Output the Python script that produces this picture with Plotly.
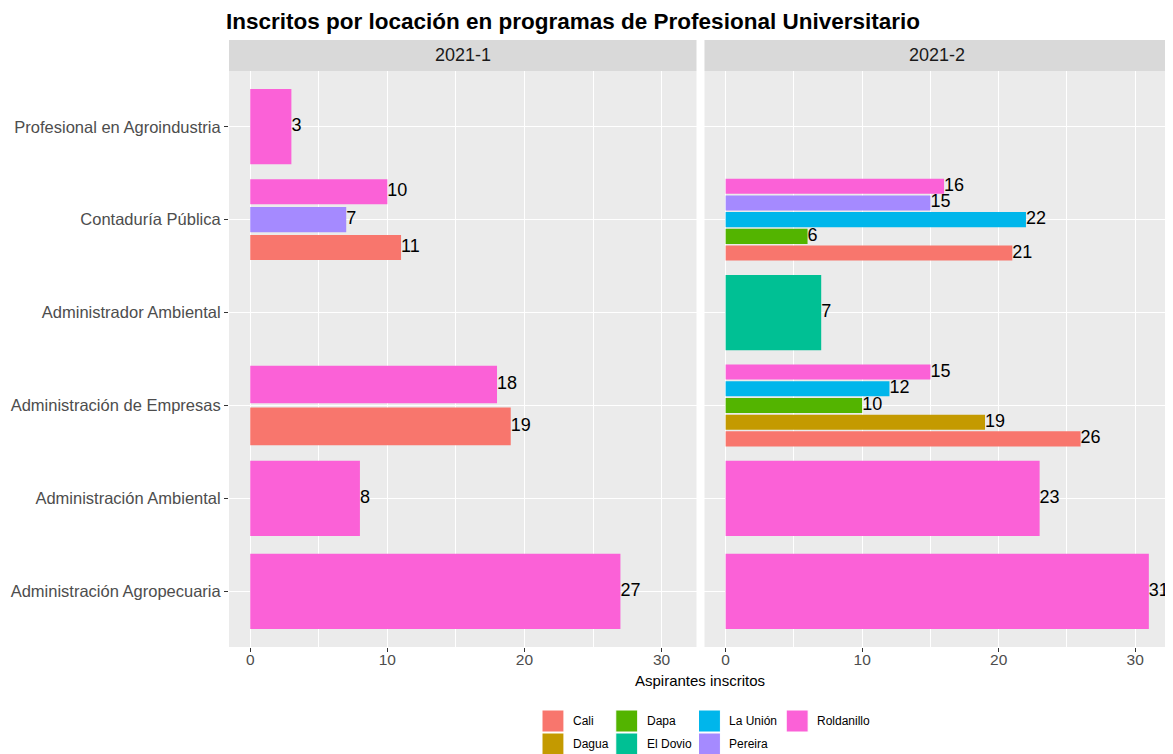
import plotly.graph_objects as go

# ---------------- data ----------------
categories = ["Administración Agropecuaria", "Administración Ambiental",
              "Administración de Empresas", "Administrador Ambiental",
              "Contaduría Pública", "Profesional en Agroindustria"]
locations = ["Cali", "Dagua", "Dapa", "El Dovio", "La Unión", "Pereira", "Roldanillo"]
loc_colors = ["#F8766D", "#C49A00", "#53B400", "#00C094", "#00B6EB", "#A58AFF", "#FB61D7"]
periods = ["2021-1", "2021-2"]

p1_program = ["Profesional en Agroindustria", "Contaduría Pública", "Contaduría Pública",
              "Contaduría Pública", "Administración de Empresas", "Administración de Empresas",
              "Administración Ambiental", "Administración Agropecuaria"]
p1_location = ["Roldanillo", "Cali", "Pereira", "Roldanillo", "Cali", "Roldanillo",
               "Roldanillo", "Roldanillo"]
p1_value = [3, 11, 7, 10, 19, 18, 8, 27]

p2_program = ["Contaduría Pública", "Contaduría Pública", "Contaduría Pública",
              "Contaduría Pública", "Contaduría Pública", "Administrador Ambiental",
              "Administración de Empresas", "Administración de Empresas",
              "Administración de Empresas", "Administración de Empresas",
              "Administración de Empresas", "Administración Ambiental",
              "Administración Agropecuaria"]
p2_location = ["Cali", "Dapa", "La Unión", "Pereira", "Roldanillo", "El Dovio",
               "Cali", "Dagua", "Dapa", "La Unión", "Roldanillo", "Roldanillo", "Roldanillo"]
p2_value = [21, 6, 22, 15, 16, 7, 26, 19, 10, 12, 15, 23, 31]

x_ticks = [0, 10, 20, 30]
x_minor = [5, 15, 25]

# ---------------- layout constants ----------------
# page has an 8px body margin: the figure is drawn offset by (8, 8)
OFF = 8
W, H = 1173 - OFF, 754 - OFF
ML = 226 - OFF
MT = 71 - OFF
MR = 3
MB = H - (647 - OFF)
PW, PH = W - ML - MR, H - MT - MB
FONT = "Liberation Sans, Arial, sans-serif"
DODGE = 0.9
PAD = 0.1


def px_x(px):
    """reference-pixel x -> paper coordinate"""
    return (px - OFF - ML) / PW


def px_y(py):
    """reference-pixel y -> paper coordinate"""
    return (H - MB - (py - OFF)) / PH


def dodge(programs, locs, values):
    """ggplot position_dodge2-like layout: returns per-bar y center and thickness."""
    out = []
    for ci, cat in enumerate(categories):
        idx = [i for i, p in enumerate(programs) if p == cat]
        idx.sort(key=lambda i: locations.index(locs[i]))
        n = len(idx)
        for k, i in enumerate(idx):
            slot = DODGE / n
            yc = ci - DODGE / 2 + slot * (k + 0.5)
            out.append((locs[i], values[i], yc, slot * (1 - PAD)))
    return out


fig = go.Figure()
data_sets = [(p1_program, p1_location, p1_value), (p2_program, p2_location, p2_value)]
for pi, (prog, loc, val) in enumerate(data_sets):
    xa = "x" if pi == 0 else "x2"
    bars = dodge(prog, loc, val)
    for li, lname in enumerate(locations):
        sel = [b for b in bars if b[0] == lname]
        if not sel:
            continue
        fig.add_trace(go.Bar(
            orientation="h", x=[b[1] for b in sel], y=[b[2] for b in sel],
            width=[b[3] for b in sel], base=0,
            marker=dict(color=loc_colors[li], line=dict(width=0)),
            name=lname, showlegend=False, xaxis=xa, yaxis="y", hoverinfo="x+name"))
    fig.add_trace(go.Scatter(
        x=[b[1] for b in bars], y=[b[2] for b in bars], mode="text",
        text=[str(b[1]) for b in bars], textposition="middle right",
        textfont=dict(size=18, color="black", family=FONT),
        cliponaxis=False, showlegend=False, xaxis=xa, yaxis="y", hoverinfo="skip"))

axis_common = dict(
    range=[-1.55, 32.55], tickvals=x_ticks, ticks="outside", ticklen=4,
    tickcolor="#333333", tickwidth=1, showline=False, zeroline=False,
    showgrid=True, gridcolor="white", gridwidth=1.2,
    tickfont=dict(size=15.5, color="#4D4D4D", family=FONT),
    ticklabelstandoff=-6,
    minor=dict(tickvals=x_minor, showgrid=True, gridcolor="white", gridwidth=0.6, ticks=""),
    fixedrange=True)

split1 = px_x(695)
split2 = px_x(703)
fig.update_layout(
    width=W, height=H,
    margin=dict(l=ML, r=MR, t=MT, b=MB),
    paper_bgcolor="white", plot_bgcolor="#EBEBEB",
    barmode="overlay", showlegend=False,
    font=dict(family=FONT),
    xaxis=dict(domain=[0, split1], anchor="y", **axis_common),
    xaxis2=dict(domain=[split2, 1], anchor="y", **axis_common),
    yaxis=dict(range=[-0.6, 5.6], tickvals=list(range(len(categories))), ticktext=categories,
               ticks="outside", ticklen=4, tickcolor="#333333", tickwidth=1,
               showgrid=True, gridcolor="white", gridwidth=1.2, zeroline=False,
               showline=False, tickfont=dict(size=16.5, color="#4D4D4D", family=FONT),
               fixedrange=True),
    title=dict(text="<b>Inscritos por locación en programas de Profesional Universitario</b>",
               x=ML / W, xanchor="left", xref="container",
               y=(H - (21 - OFF)) / H, yanchor="middle", yref="container",
               font=dict(size=22.5, color="black", family=FONT)),
)

# facet strips
strip_top = px_y(40)
for pi, (d0, d1) in enumerate([(0, split1), (split2, 1)]):
    fig.add_shape(type="rect", xref="paper", yref="paper", x0=d0, x1=d1, y0=1, y1=strip_top,
                  fillcolor="#D9D9D9", line=dict(width=0), layer="below")
    fig.add_annotation(xref="paper", yref="paper", x=(d0 + d1) / 2, y=(1 + strip_top) / 2,
                       text=periods[pi], showarrow=False, xanchor="center", yanchor="middle",
                       font=dict(size=18, color="#1A1A1A", family=FONT))

# axis title
fig.add_annotation(xref="paper", yref="paper", x=0.5, y=px_y(680), text="Aspirantes inscritos",
                   showarrow=False, xanchor="center", yanchor="middle",
                   font=dict(size=15, color="black", family=FONT))

# legend (ggplot style, column-wise fill, 2 rows)
col_x = [540, 614, 697, 785]
row_y = [710, 733]
KEY = 22
for li, lname in enumerate(locations):
    c, r = li // 2, li % 2
    kx, ky = col_x[c], row_y[r]
    fig.add_shape(type="rect", xref="paper", yref="paper",
                  x0=px_x(kx), x1=px_x(kx + KEY), y0=px_y(ky + KEY), y1=px_y(ky),
                  fillcolor=loc_colors[li], line=dict(width=1, color="white"))
    fig.add_annotation(xref="paper", yref="paper", x=px_x(kx + KEY + 7), y=px_y(ky + KEY / 2),
                       text=lname, showarrow=False, xanchor="left", yanchor="middle",
                       font=dict(size=12, color="black", family=FONT))

fig.write_html("out.html")
